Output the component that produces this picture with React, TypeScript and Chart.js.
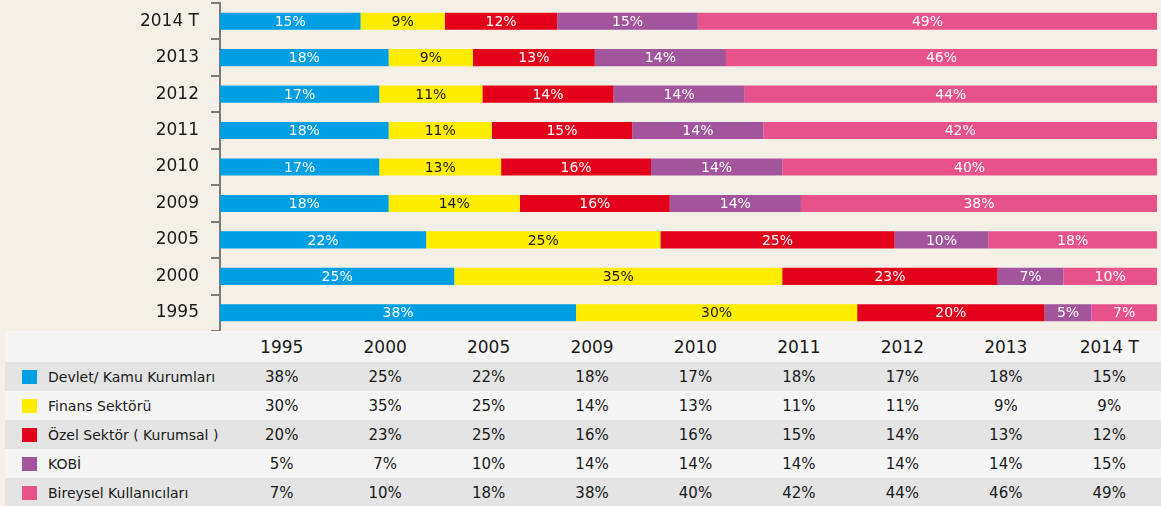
import React, { useEffect, useRef } from "react";
import { Chart, registerables } from "chart.js";

Chart.register(...registerables);

const years = ["1995", "2000", "2005", "2009", "2010", "2011", "2012", "2013", "2014 T"];
const seriesNames = [
  "Devlet/ Kamu Kurumları",
  "Finans Sektörü",
  "Özel Sektör ( Kurumsal )",
  "KOBİ",
  "Bireysel Kullanıcıları",
];
const devlet = [38, 25, 22, 18, 17, 18, 17, 18, 15];
const finans = [30, 35, 25, 14, 13, 11, 11, 9, 9];
const ozel = [20, 23, 25, 16, 16, 15, 14, 13, 12];
const kobi = [5, 7, 10, 14, 14, 14, 14, 14, 15];
const bireysel = [7, 10, 18, 38, 40, 42, 44, 46, 49];
const seriesColors = ["#009FE3", "#FFED00", "#E3001B", "#A2559D", "#E8528A"];
const labelColors = ["#ffffff", "#1a1a1a", "#ffffff", "#ffffff", "#ffffff"];

const allSeries = [devlet, finans, ozel, kobi, bireysel];
const FONT = "'DejaVu Sans', sans-serif";

const segmentLabels = {
  id: "segmentLabels",
  afterDatasetsDraw(chart: any) {
    const ctx = chart.ctx;
    ctx.save();
    ctx.font = `14px ${FONT}`;
    ctx.textAlign = "center";
    ctx.textBaseline = "middle";
    chart.data.datasets.forEach((ds: any, di: number) => {
      const meta = chart.getDatasetMeta(di);
      meta.data.forEach((bar: any, i: number) => {
        const v = ds.data[i];
        const cx = (bar.x + bar.base) / 2;
        ctx.fillStyle = labelColors[di];
        ctx.fillText(`${v}%`, cx, bar.y + 1);
      });
    });
    ctx.restore();
  },
};

function BarChart() {
  const ref = useRef<HTMLCanvasElement>(null);
  useEffect(() => {
    if (!ref.current) return;
    const rev = [...years].reverse();
    const chart = new Chart(ref.current, {
      type: "bar",
      data: {
        labels: rev,
        datasets: allSeries.map((s, i) => ({
          label: seriesNames[i],
          data: [...s].reverse(),
          backgroundColor: seriesColors[i],
          borderWidth: 0,
          barPercentage: 0.47,
          categoryPercentage: 1,
        })),
      },
      options: {
        indexAxis: "y",
        animation: false,
        responsive: false,
        maintainAspectRatio: false,
        layout: { padding: { top: 3, right: 4, bottom: 0, left: 0 } },
        plugins: { legend: { display: false }, tooltip: { enabled: false } },
        scales: {
          x: { stacked: true, min: 0, max: 100, display: false },
          y: {
            stacked: true,
            afterFit(scale: any) {
              scale.width = 220;
              scale.paddingTop = 0;
              scale.paddingBottom = 0;
            },
            border: { display: true, color: "#7a7a7a", width: 2 },
            grid: {
              offset: true,
              drawOnChartArea: false,
              drawTicks: true,
              tickLength: 9,
              color: "#7a7a7a",
              lineWidth: 2,
            },
            ticks: {
              color: "#1a1a1a",
              padding: 12,
              font: { family: FONT, size: 17 },
            },
          },
        },
      },
      plugins: [segmentLabels],
    } as any);
    return () => chart.destroy();
  }, []);
  return <canvas ref={ref} width={1161} height={331} style={{ display: "block" }} />;
}

export default function App() {
  useEffect(() => {
    document.body.style.margin = "0";
    document.body.style.background = "#F4F0E7";
  }, []);
  const rowBg = (i: number) => (i % 2 === 0 ? "#E3E4E3" : "#F5F5F5");
  return (
    <div style={{ width: 1161, height: 506, background: "#F4F0E7", fontFamily: FONT, color: "#1a1a1a", overflow: "hidden" }}>
      <BarChart />
      <table
        style={{
          marginLeft: 5,
          width: 1156,
          borderCollapse: "collapse",
          tableLayout: "fixed",
        }}
      >
        <colgroup>
          <col style={{ width: 225 }} />
          {years.map((y) => (
            <col key={y} />
          ))}
        </colgroup>
        <thead>
          <tr style={{ height: 31, background: "#F5F5F5" }}>
            <th />
            {years.map((y) => (
              <th key={y} style={{ fontWeight: "normal", fontSize: 17, textAlign: "center", padding: 0 }}>
                {y}
              </th>
            ))}
          </tr>
        </thead>
        <tbody>
          {allSeries.map((s, si) => (
            <tr key={si} style={{ height: 29, background: rowBg(si) }}>
              <td style={{ padding: 0, fontSize: 14, whiteSpace: "nowrap" }}>
                <span
                  style={{
                    display: "inline-block",
                    width: 15,
                    height: 14,
                    background: seriesColors[si],
                    marginLeft: 17,
                    marginRight: 11,
                    verticalAlign: "-2px",
                  }}
                />
                {seriesNames[si]}
              </td>
              {s.map((v, i) => (
                <td key={i} style={{ padding: 0, fontSize: 15, textAlign: "center" }}>
                  {v}%
                </td>
              ))}
            </tr>
          ))}
        </tbody>
      </table>
    </div>
  );
}
